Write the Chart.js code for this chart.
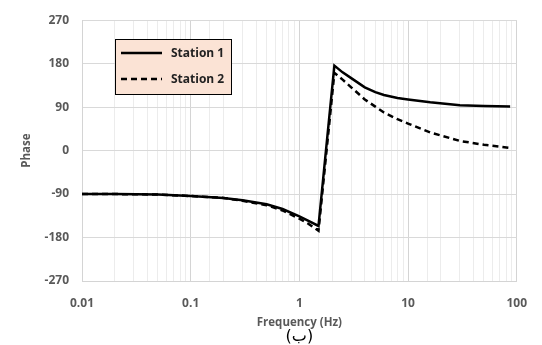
<!DOCTYPE html>
<html>
<head>
<meta charset="utf-8">
<script src="https://cdn.jsdelivr.net/npm/chart.js@4"></script>
<style>
  body { margin: 0; background: #fff; }
  canvas { display: block; }
</style>
</head>
<body>
<canvas id="graficoFase" width="542" height="345"></canvas>
<script>
// frequencias (Hz)
const frequencias = [0.01, 0.02, 0.05, 0.1, 0.2, 0.3, 0.5, 0.7, 1, 1.2, 1.5, 2.1, 2.5, 3, 4, 5, 6, 8, 10, 16, 30, 50, 87];
const fase1 = [-90, -90, -91, -94, -98, -103, -111, -121, -136, -145, -156, 176, 162, 150, 131, 121, 115, 109, 106, 100, 94, 92.5, 91.5];
const fase2 = [-90, -90, -91, -94, -98, -104, -113, -124, -141, -151, -166, 161, 147, 131, 106, 91, 79, 65, 56, 37.5, 20, 12, 5.6];
const rotulos = ["Station 1", "Station 2"];
const legenda = "(ب)";
const yTicks = [-270, -180, -90, 0, 90, 180, 270];

function pontos(ys) {
    return frequencias.map((f, i) => ({ x: f, y: ys[i] }));
}

function ehDecada(v) {
    const l = Math.log10(v);
    return Math.abs(l - Math.round(l)) < 1e-6;
}

// legenda desenhada dentro da area do grafico + rotulo (ب) embaixo
const legendaInterna = {
    id: "legendaInterna",
    afterDraw(chart) {
        const ctx = chart.ctx;
        const x = 115, y = 39, w = 116, h = 55;
        ctx.save();
        ctx.fillStyle = "#fbe3d5";
        ctx.fillRect(x, y, w, h);
        ctx.strokeStyle = "#000";
        ctx.lineWidth = 1;
        ctx.strokeRect(x + 0.5, y + 0.5, w, h);
        chart.data.datasets.forEach((ds, i) => {
            const ly = 53 + i * 26;
            ctx.beginPath();
            ctx.setLineDash(ds.borderDash || []);
            ctx.lineWidth = ds.borderWidth;
            ctx.strokeStyle = ds.borderColor;
            ctx.moveTo(121, ly);
            ctx.lineTo(162, ly);
            ctx.stroke();
            ctx.setLineDash([]);
            ctx.fillStyle = "#222";
            ctx.font = "bold 12px 'Open Sans'";
            ctx.textBaseline = "middle";
            ctx.textAlign = "left";
            ctx.fillText(ds.label, 171, ly + 1);
        });
        const area = chart.chartArea;
        ctx.fillStyle = "#000";
        ctx.font = "16px 'DejaVu Sans'";
        ctx.textAlign = "center";
        ctx.textBaseline = "alphabetic";
        ctx.fillText(legenda, (area.left + area.right) / 2, 341);
        ctx.restore();
    }
};

const ctx = document.getElementById("graficoFase").getContext("2d");
new Chart(ctx, {
    type: "line",
    data: {
        datasets: [{
            label: rotulos[0],
            data: pontos(fase1),
            borderColor: "#000",
            borderWidth: 2.5,
            pointRadius: 0,
            tension: 0
        }, {
            label: rotulos[1],
            data: pontos(fase2),
            borderColor: "#000",
            borderWidth: 2.5,
            borderDash: [6, 4],
            pointRadius: 0,
            tension: 0
        }]
    },
    options: {
        responsive: false,
        animation: false,
        layout: { padding: { left: 0, right: 19, top: 13, bottom: 15 } },
        plugins: {
            legend: { display: false },
            tooltip: { enabled: false }
        },
        scales: {
            x: {
                type: "logarithmic",
                min: 0.01,
                max: 100,
                afterFit: s => { s.height = 49; },
                grid: {
                    drawTicks: false,
                    color: c => ehDecada(c.tick.value) ? "#d4d4d4" : "#ececec"
                },
                border: { color: "#d4d4d4" },
                ticks: {
                    autoSkip: false,
                    maxRotation: 0,
                    padding: 15,
                    color: "#595959",
                    font: { family: "'Open Sans'", size: 12, weight: "bold" },
                    callback: v => ehDecada(v) ? String(+v.toPrecision(3)) : ""
                },
                title: {
                    display: true,
                    text: "Frequency (Hz)",
                    color: "#595959",
                    font: { family: "'Open Sans'", size: 11.5, weight: "bold", lineHeight: 1 },
                    padding: { top: 0, bottom: 2 }
                }
            },
            y: {
                min: -270,
                max: 270,
                afterFit: s => { s.width = 82; },
                afterBuildTicks: s => { s.ticks = yTicks.map(v => ({ value: v })); },
                grid: { drawTicks: false, color: "#d9d9d9" },
                border: { color: "#d4d4d4" },
                ticks: {
                    padding: 13,
                    color: "#595959",
                    font: { family: "'Open Sans'", size: 12, weight: "bold" }
                },
                title: {
                    display: true,
                    text: "Phase",
                    color: "#595959",
                    font: { family: "'Open Sans'", size: 11.5, weight: "bold" },
                    padding: { top: 20, bottom: 0 }
                }
            }
        }
    },
    plugins: [legendaInterna]
});
</script>
</body>
</html>
